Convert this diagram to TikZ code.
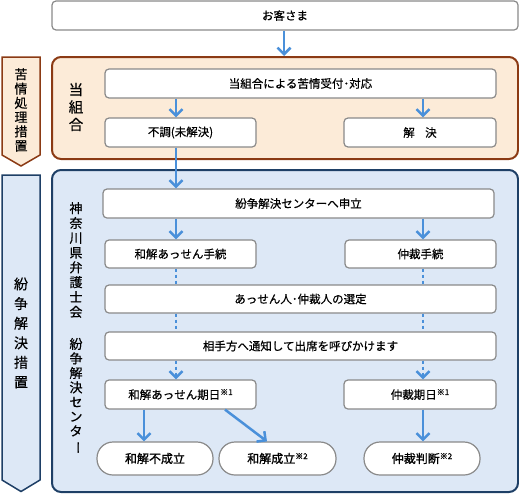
\documentclass[tikz,border=0pt]{standalone}
\usepackage{fontspec}
\setmainfont{Noto Sans CJK JP}[FakeBold=0.5]
\newfontfamily\pillfont{Noto Sans CJK JP}[FakeBold=1.3]
\usetikzlibrary{arrows.meta}
\definecolor{arrowblue}{HTML}{4A90DA}
\definecolor{orfill}{HTML}{FCEBD8}
\definecolor{ordraw}{HTML}{8B3A14}
\definecolor{blfill}{HTML}{DDE8F6}
\definecolor{bldraw}{HTML}{1E3F66}
\definecolor{boxdraw}{HTML}{8A8A8A}
\newcommand\notemark[1]{{\fontsize{8}{8}\selectfont\raisebox{4pt}{※#1}}}
\tikzset{
  box/.style={draw=boxdraw, line width=1.2pt, fill=white, rounded corners=4pt, inner sep=0pt,
    font=\fontsize{11.5}{13}\selectfont, text=black},
  pill/.style={box, rounded corners=16pt, font=\fontsize{12}{13}\selectfont\pillfont},
  area/.style={line width=2pt, rounded corners=9pt, inner sep=0pt},
  orarea/.style={area, draw=ordraw, fill=orfill},
  blarea/.style={area, draw=bldraw, fill=blfill},
  flow/.style={draw=arrowblue, line width=2.5pt, -{Straight Barb[length=6.5pt,width=13pt]}},
  dots/.style={draw=arrowblue, line width=2.5pt, dash pattern=on 3pt off 3pt},
  dotflow/.style={dots, -{Straight Barb[length=6.5pt,width=13pt]}},
  vtext/.style={align=center, inner sep=0pt, text=black},
}
\begin{document}
\begin{tikzpicture}[x=1pt,y=-1pt]
\useasboundingbox (0,0) rectangle (519,493);
% column coordinates
\coordinate (colL) at (176,0);
\coordinate (colR) at (423,0);
\coordinate (colG) at (284,0);
\coordinate (colF) at (144,0);
\coordinate (diagA) at (225,0);
\coordinate (diagB) at (267,0);

% big areas
\node[orarea, minimum width=466pt, minimum height=102pt] (orange) at (285,108) {};
\node[blarea, minimum width=466pt, minimum height=322pt] (blue) at (285,331) {};

% side pentagons
\draw[draw=ordraw, fill=orfill, line width=1.5pt, line join=miter]
  (2,57) -- (40,57) -- (40,155) -- (21,166) -- (2,155) -- cycle;
\draw[draw=bldraw, fill=blfill, line width=1.5pt, line join=miter]
  (2,175) -- (40,175) -- (40,480) -- (21,491.5) -- (2,480) -- cycle;

\node[vtext, font=\fontsize{13}{14.3}\selectfont] (kujo-label) at (21,110)
  {苦\\情\\処\\理\\措\\置};
\node[vtext, font=\fontsize{14}{19.6}\selectfont] (funso-label) at (21,333)
  {紛\\争\\解\\決\\措\\置};
\node[vtext, font=\fontsize{14.5}{17.5}\selectfont] (kumiai-label) at (76,107)
  {当\\組\\合};
\node[vtext, font=\fontsize{13}{14.8}\selectfont] (bengoshi-label) at (76,260)
  {神\\奈\\川\\県\\弁\\護\\士\\会};
\node[vtext, font=\fontsize{13}{14.5}\selectfont] (center-label) at (76,396)
  {紛\\争\\解\\決\\セ\\ン\\タ\\\rotatebox[origin=c]{-90}{ー}};

% boxes
\node[box, minimum width=466pt, minimum height=29pt] (guest) at (285,15.5) {お客さま};
\node[box, minimum width=391pt, minimum height=29pt] (uketsuke) at (300.5,83.5) {当組合による苦情受付･対応};
\node[box, minimum width=151pt, minimum height=29pt] (fucho) at (180.5,132.5) {不調(未解決)};
\node[box, minimum width=152pt, minimum height=29pt] (kaiketsu) at (420,132.5) {解\hspace{0.9em}決};
\node[box, minimum width=391pt, minimum height=29pt] (moushitate) at (298.5,203.5) {紛争解決センターへ申立};
\node[box, minimum width=151pt, minimum height=28pt] (wtetsu) at (180.5,254) {和解あっせん手続};
\node[box, minimum width=151pt, minimum height=28pt] (ctetsu) at (420.5,254) {仲裁手続};
\node[box, minimum width=391pt, minimum height=28pt] (sentei) at (300.5,299) {あっせん人･仲裁人の選定};
\node[box, minimum width=391pt, minimum height=28pt] (tsuchi) at (300.5,346) {相手方へ通知して出席を呼びかけます};
\node[box, minimum width=151pt, minimum height=29pt] (wkijitsu) at (180.5,394.5) {和解あっせん期日\notemark{1}};
\node[box, minimum width=152pt, minimum height=29pt] (ckijitsu) at (420,394.5) {仲裁期日\notemark{1}};
\node[pill, minimum width=116pt, minimum height=33pt] (fuseiritsu) at (155,458.5) {和解不成立};
\node[pill, minimum width=117pt, minimum height=33pt] (seiritsu) at (277.5,458.5) {和解成立\notemark{2}};
\node[pill, minimum width=116pt, minimum height=33pt] (handan) at (422,458.5) {仲裁判断\notemark{2}};

% connectors
\draw[flow] (guest.south -| colG) -- (orange.north -| colG);
\draw[flow] (uketsuke.south -| colL) -- (fucho.north -| colL);
\draw[flow] (uketsuke.south -| colR) -- (kaiketsu.north -| colR);
\draw[flow] (fucho.south -| colL) -- (moushitate.north -| colL);
\draw[flow] (moushitate.south -| colL) -- (wtetsu.north -| colL);
\draw[flow] (moushitate.south -| colR) -- (ctetsu.north -| colR);
\draw[dots] (wtetsu.south -| colL) -- (sentei.north -| colL);
\draw[dots] (ctetsu.south -| colR) -- (sentei.north -| colR);
\draw[dots] (sentei.south -| colL) -- (tsuchi.north -| colL);
\draw[dots] (sentei.south -| colR) -- (tsuchi.north -| colR);
\draw[dotflow] (tsuchi.south -| colL) -- (wkijitsu.north -| colL);
\draw[dotflow] (tsuchi.south -| colR) -- (ckijitsu.north -| colR);
\draw[flow] (wkijitsu.south -| colF) -- (fuseiritsu.north -| colF);
\draw[flow] (wkijitsu.south -| diagA) -- (seiritsu.north -| diagB);
\draw[flow] (ckijitsu.south -| colR) -- (handan.north -| colR);
\end{tikzpicture}
\end{document}
